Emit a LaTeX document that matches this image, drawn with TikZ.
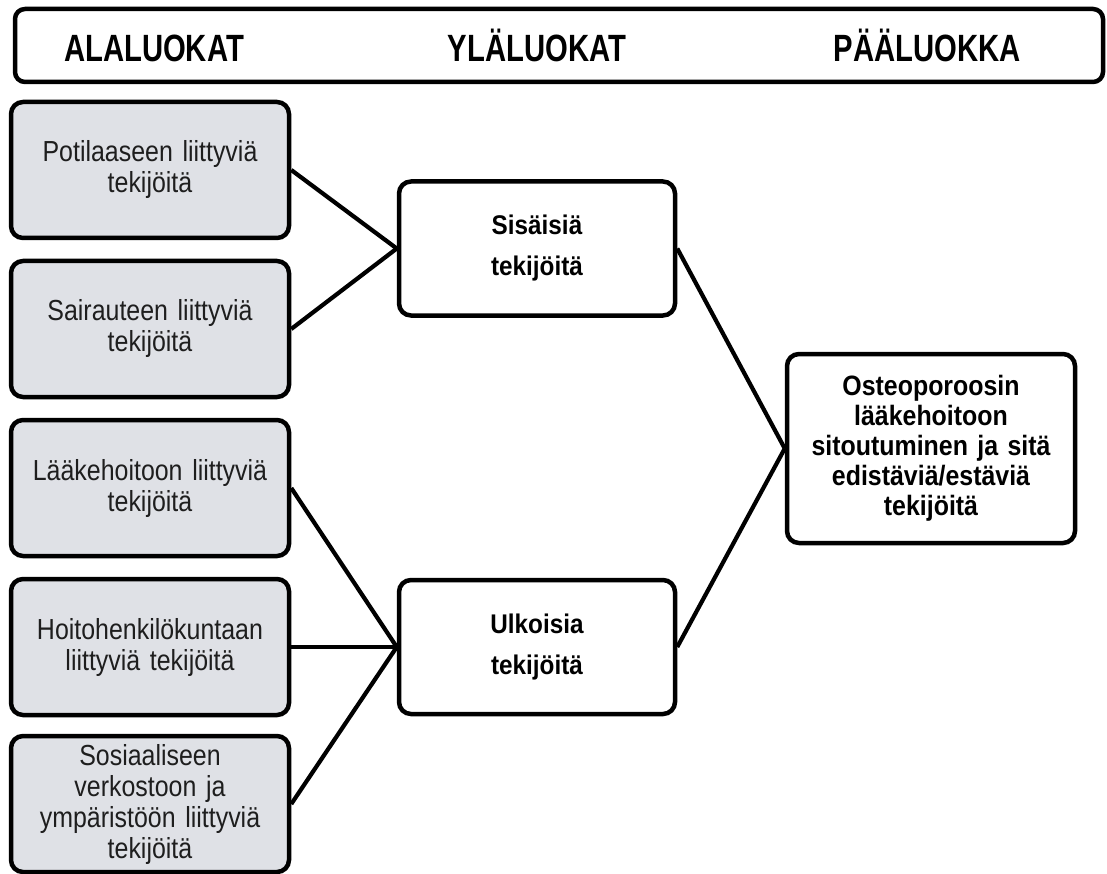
\documentclass[tikz,border=0pt]{standalone}
\usepackage{fontspec}
\setmainfont{Liberation Sans}
\newfontfamily\bodyfont[FakeStretch=0.86]{Liberation Sans}
\newfontfamily\headfont[FakeStretch=0.77]{Liberation Sans}
\newfontfamily\midfont[FakeStretch=0.9]{Liberation Sans}
\newfontfamily\boldfont[FakeStretch=0.89]{Liberation Sans}
\definecolor{subfill}{RGB}{223,225,230}
\definecolor{subtext}{RGB}{30,30,30}
\tikzset{
  frame/.style={draw=black, line width=4.5pt, rounded corners=12pt, rectangle, inner sep=0pt, align=center},
  subbox/.style={frame, fill=subfill, minimum width=278pt, minimum height=136pt, text width=260pt,
    font=\bodyfont\fontsize{29}{31}\selectfont, text=subtext},
  midbox/.style={frame, fill=white, minimum width=276pt, minimum height=134pt, text width=260pt,
    font=\midfont\bfseries\fontsize{27}{41}\selectfont},
  mainbox/.style={frame, fill=white, minimum width=288pt, minimum height=189pt, text width=270pt,
    font=\boldfont\bfseries\fontsize{28}{30}\selectfont},
  headtext/.style={font=\headfont\bfseries\fontsize{38}{42}\selectfont, inner sep=0pt, anchor=base},
  link/.style={line width=4.2pt}
}
\begin{document}
\begin{tikzpicture}[x=1pt,y=-1pt]
\useasboundingbox (0,0) rectangle (1107,874);
% header
\node[frame, minimum width=1088pt, minimum height=73pt, rounded corners=10pt] (head) at (559,45.5) {};
\node[headtext] (h1) at (154,62) {ALALUOKAT};
\node[headtext] (h2) at (537,62) {YLÄLUOKAT};
\node[headtext] (h3) at (927,62) {PÄÄLUOKKA};
% sub categories
\node[subbox] (b1) at (150,170) {Potilaaseen liittyviä\\tekijöitä};
\node[subbox] (b2) at (150,329) {Sairauteen liittyviä\\tekijöitä};
\node[subbox] (b3) at (150,488) {Lääkehoitoon liittyviä\\tekijöitä};
\node[subbox] (b4) at (150,647) {Hoitohenkilökuntaan\\liittyviä tekijöitä};
\node[subbox] (b5) at (150,804) {Sosiaaliseen\\verkostoon ja\\ympäristöön liittyviä\\tekijöitä};
% upper categories
\node[midbox] (s) at (537,248.5) {Sisäisiä\\tekijöitä};
\node[midbox] (u) at (537,647) {Ulkoisia\\tekijöitä};
% main category
\node[mainbox] (m) at (931,448.5) {Osteoporoosin\\lääkehoitoon\\sitoutuminen ja sitä\\edistäviä/estäviä\\tekijöitä};
% connectors
\draw[link] (b1.east) -- (s.west);
\draw[link] (b2.east) -- (s.west);
\draw[link] (b3.east) -- (u.west);
\draw[link] (b4.east) -- (u.west);
\draw[link] (b5.east) -- (u.west);
\draw[link] (s.east) -- (m.west);
\draw[link] (u.east) -- (m.west);
\end{tikzpicture}
\end{document}
